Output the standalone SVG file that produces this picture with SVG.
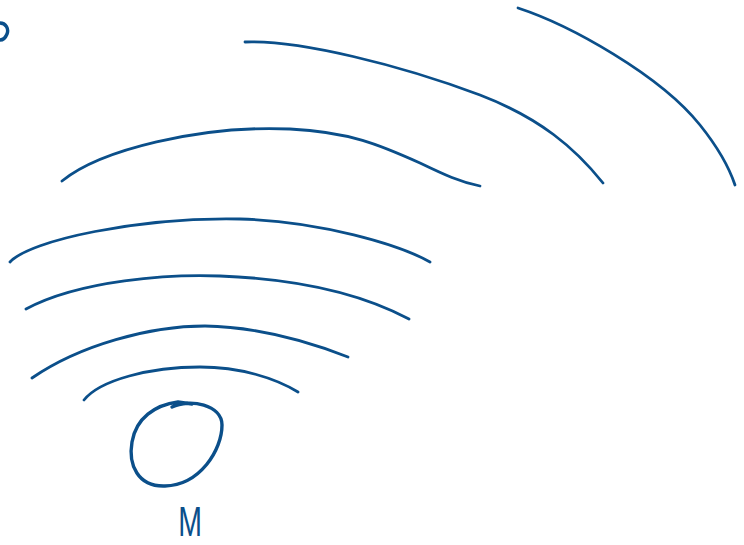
<svg xmlns="http://www.w3.org/2000/svg" width="744" height="545" viewBox="0 0 744 545">
<style>
.s{fill:none;stroke:#0b4f8a;stroke-width:2.8;stroke-linecap:round;stroke-linejoin:round}
.c{stroke-width:3.4}
.t{font-family:"Liberation Sans",Arial,sans-serif;font-size:38px;fill:#0b4f8a}
</style>
<rect width="744" height="545" fill="#ffffff"/>
<g id="waves">
<path class="s c" d="M0,23 C6,23 9,29 7,34 C5,39 2,40 0,40"/>
<path class="s" d="M518,8 C570,25 660,75 700,125 C720,150 730,170 735,185"/>
<path class="s" d="M245,42 C300,40 400,65 480,95 C540,118 575,148 603,183"/>
<path class="s" d="M62,181 C100,150 200,125 290,129 C350,132 380,145 420,163 C445,175 460,182 480,186"/>
<path class="s" d="M10,262 C30,240 140,217 240,219 C320,221 400,245 430,262"/>
<path class="s" d="M26,309 C80,280 170,274 220,276 C300,279 360,293 409,319"/>
<path class="s" d="M32,378 C80,345 150,326 205,326 C260,327 310,342 348,357"/>
<path class="s" d="M84,400 C100,380 150,367 200,367 C240,367 275,378 298,392"/>
</g>
<g id="M">
<path class="s c" d="M172,407 C190,398 222,405 222,425 C222,450 200,485 165,486 C138,487 128,465 132,442 C136,418 155,405 178,402 L192,404"/>
<text class="t" x="0" y="0" text-anchor="middle" transform="translate(190 536) scale(0.75 1.1)">M</text>
</g>
</svg>
